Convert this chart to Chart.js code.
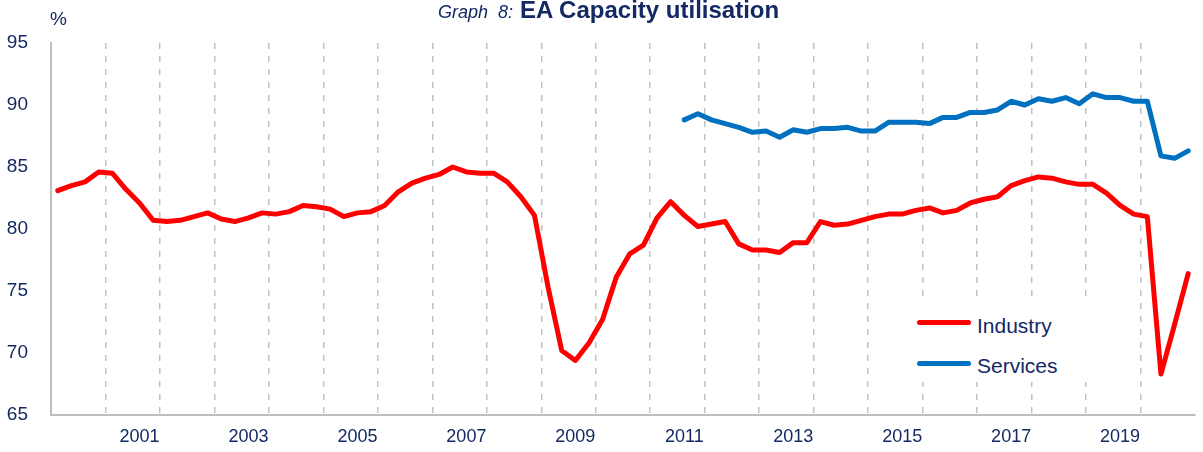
<!DOCTYPE html>
<html>
<head>
<meta charset="utf-8">
<script src="https://cdn.jsdelivr.net/npm/chart.js@4.4.1/dist/chart.umd.min.js"></script>
<style>
  html, body { margin: 0; padding: 0; background: #fff; }
  #wrap { position: relative; width: 1203px; height: 452px; font-family: "Liberation Sans", Arial, sans-serif; color: #142864; }
  #chart { position: absolute; left: 0; top: 0; }
  .abs { position: absolute; white-space: nowrap; }
  .legend { position: absolute; left: 870px; top: 298px; width: 232px; height: 84px; background: #fff; }
  .swatch { position: absolute; width: 54px; height: 5px; border-radius: 3px; }
</style>
</head>
<body>
<div id="wrap">
  <canvas id="chart" width="1203" height="452"></canvas>
  <span class="abs" style="left:438px; top:3px; font-size:18px; line-height:18px; font-style:italic;">Graph&nbsp; 8:</span>
  <span class="abs" style="left:520px; top:-2px; font-size:24px; line-height:24px; font-weight:bold;">EA Capacity utilisation</span>
  <span class="abs" style="left:50px; top:9px; font-size:19px; line-height:19px;">%</span>
  <div class="legend" id="legend"></div>
</div>
<script>
// quarterly categories 2000Q1 .. 2020Q4
const years = [2000, 2001, 2002, 2003, 2004, 2005, 2006, 2007, 2008, 2009, 2010,
  2011, 2012, 2013, 2014, 2015, 2016, 2017, 2018, 2019, 2020];
const quarterNames = ["Q1", "Q2", "Q3", "Q4"];
const tickYears = ["2001", "2003", "2005", "2007", "2009", "2011", "2013", "2015", "2017", "2019"];
const yTicks = [65, 70, 75, 80, 85, 90, 95];

const industry = [
  83.1, 83.5, 83.8, 84.6,
  84.5, 83.2, 82.1, 80.7,
  80.6, 80.7, 81.0, 81.3,
  80.8, 80.6, 80.9, 81.3,
  81.2, 81.4, 81.9, 81.8,
  81.6, 81.0, 81.3, 81.4,
  81.9, 83.0, 83.7, 84.1,
  84.4, 85.0, 84.6, 84.5,
  84.5, 83.8, 82.6, 81.1,
  75.3, 70.2, 69.4, 70.8,
  72.7, 76.1, 78.0, 78.7,
  80.9, 82.2, 81.1, 80.2,
  80.4, 80.6, 78.8, 78.3,
  78.3, 78.1, 78.9, 78.9,
  80.6, 80.3, 80.4, 80.7,
  81.0, 81.2, 81.2, 81.5,
  81.7, 81.3, 81.5, 82.1,
  82.4, 82.6, 83.5, 83.9,
  84.2, 84.1, 83.8, 83.6,
  83.6, 82.9, 81.9, 81.2,
  81.0, 68.3, 72.3, 76.4
];

const services = [
  null, null, null, null, null, null, null, null, null, null, null, null,
  null, null, null, null, null, null, null, null, null, null, null, null,
  null, null, null, null, null, null, null, null, null, null, null, null,
  null, null, null, null, null, null, null, null, null, null,
  88.8, 89.3,
  88.8, 88.5, 88.2, 87.8,
  87.9, 87.4, 88.0, 87.8,
  88.1, 88.1, 88.2, 87.9,
  87.9, 88.6, 88.6, 88.6,
  88.5, 89.0, 89.0, 89.4,
  89.4, 89.6, 90.3, 90.0,
  90.5, 90.3, 90.6, 90.1,
  90.9, 90.6, 90.6, 90.3,
  90.3, 85.9, 85.7, 86.3
];

const labels = [];
years.forEach((y) => quarterNames.forEach((q) => labels.push(y + q)));

const textColor = "#142864";
const axisGrey = "#bfbfbf";
const series = [
  { label: "Industry", data: industry, color: "#ff0000" },
  { label: "Services", data: services, color: "#0070c0" },
];

new Chart(document.getElementById("chart"), {
  type: "line",
  data: {
    labels: labels,
    datasets: series.map((s) => ({
      label: s.label,
      data: s.data,
      borderColor: s.color,
      backgroundColor: s.color,
      borderWidth: 5,
      pointRadius: 0,
      tension: 0,
      borderJoinStyle: "round",
      borderCapStyle: "round",
    })),
  },
  options: {
    responsive: false,
    animation: false,
    devicePixelRatio: 1,
    layout: { padding: { top: 43, right: 8, left: 0, bottom: 0 } },
    plugins: { legend: { display: false }, tooltip: { enabled: false } },
    scales: {
      x: {
        offset: true,
        afterFit: (scale) => { scale.height = 37; },
        grid: {
          offset: true,
          drawTicks: false,
          lineWidth: 1.5,
          color: (ctx) => (ctx.index > 0 && ctx.index % 4 === 0 ? "#c0c0c0" : "rgba(0,0,0,0)"),
        },
        border: { color: axisGrey, width: 2, dash: [6, 7] },
        ticks: {
          autoSkip: false,
          maxRotation: 0,
          padding: 11,
          color: textColor,
          font: { family: "Liberation Sans", size: 18 },
          callback: function (val) {
            const lab = this.getLabelForValue(val);
            const yr = lab.slice(0, 4);
            return lab.endsWith("Q3") && tickYears.includes(yr) ? yr : "";
          },
        },
      },
      y: {
        min: 65,
        max: 95,
        afterFit: (scale) => { scale.width = 51; },
        afterBuildTicks: (scale) => { scale.ticks = yTicks.map((v) => ({ value: v })); },
        grid: { color: "rgba(0,0,0,0)", drawTicks: false },
        border: { color: axisGrey, width: 2 },
        ticks: {
          padding: 23,
          color: textColor,
          font: { family: "Liberation Sans", size: 19 },
        },
      },
    },
  },
});

// legend box inside the plot
const legend = document.getElementById("legend");
series.forEach((s, i) => {
  const sw = document.createElement("div");
  sw.className = "swatch";
  sw.style.left = "47px";
  sw.style.top = (22 + i * 41) + "px";
  sw.style.background = s.color;
  legend.appendChild(sw);
  const tx = document.createElement("span");
  tx.className = "abs";
  tx.style.left = "107px";
  tx.style.top = (17 + i * 40) + "px";
  tx.style.fontSize = "21px";
  tx.style.lineHeight = "21px";
  tx.textContent = s.label;
  legend.appendChild(tx);
});
</script>
</body>
</html>
